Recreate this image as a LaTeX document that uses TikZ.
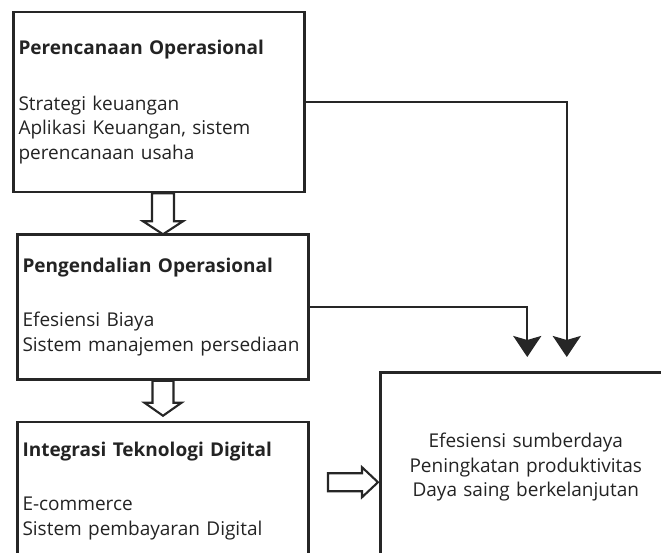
\documentclass[tikz,border=0pt]{standalone}
\usepackage{fontspec}
\setmainfont{Open Sans}
\usepackage{tikz}
\usetikzlibrary{arrows.meta,positioning,calc}
\definecolor{fontgray}{RGB}{35, 35, 35}
\definecolor{linegray}{RGB}{38, 38, 38}

\begin{document}
\begin{tikzpicture}[node distance=40pt, >=Stealth,
		boxNode/.style={draw=linegray, rectangle, line width=2.5pt, text width=281pt, inner xsep=5pt, align=left, text=fontgray, font=\fontsize{19pt}{24.5pt}\selectfont},
		flowLine/.style={line width=2.3pt, color=linegray, -{Stealth[length=21pt, width=28pt, inset=4pt]}},
		hollowArrow/.style={draw=linegray, line width=2.1pt, fill=white, line join=miter},
		]
		
		\useasboundingbox (0,0) rectangle (661pt,-553pt);
		\clip (0,0) rectangle (661pt,-553pt);
		
		\node[boxNode, minimum height=180pt] (b1) at (159pt,-102pt) {\textbf{Perencanaan Operasional}\\[31pt]Strategi keuangan\\Aplikasi Keuangan, sistem\\perencanaan usaha};
		\node[boxNode, minimum height=145pt, below=of b1, xshift=4pt] (b2) {\textbf{Pengendalian Operasional}\\[30pt]Efesiensi Biaya\\Sistem~manajemen~persediaan};
		\node[boxNode, minimum height=138pt, below=of b2] (b3) {\textbf{Integrasi Teknologi Digital}\\[30pt]E-commerce\\Sistem pembayaran Digital};
		
		\node[boxNode, minimum height=190pt, align=center, anchor=north west] (out) at (379pt,-371pt) {Efesiensi sumberdaya\\Peningkatan produktivitas\\Daya saing berkelanjutan};
		
		% arrow ends above the result box
		\coordinate (t1) at ([xshift=41pt, yshift=14pt]out.north);
		\coordinate (t2) at ([xshift=1.5pt, yshift=14pt]out.north);
		
		\draw [flowLine] (b1.east) -| (t1);
		\draw [flowLine] (b2.east) -| (t2);
		
		% hollow block arrows
		\draw [hollowArrow] ([xshift=-7pt]b1.south) -- ++(0,-28pt) -- ++(-9pt,0) -- ++(20pt,-13pt) -- ++(20pt,13pt) -- ++(-9pt,0) -- ++(0,28pt) -- cycle;
		\draw [hollowArrow] ([xshift=-10.5pt]b2.south) -- ++(0,-22pt) -- ++(-8pt,0) -- ++(18.5pt,-13pt) -- ++(18.5pt,13pt) -- ++(-8pt,0) -- ++(0,22pt) -- cycle;
		\draw [hollowArrow] ([xshift=-51pt, yshift=-6pt]out.west) -- ++(34pt,0) -- ++(0,6pt) -- ++(16pt,-15pt) -- ++(-16pt,-15pt) -- ++(0,6pt) -- ++(-34pt,0) -- cycle;
		
\end{tikzpicture}
\end{document}
